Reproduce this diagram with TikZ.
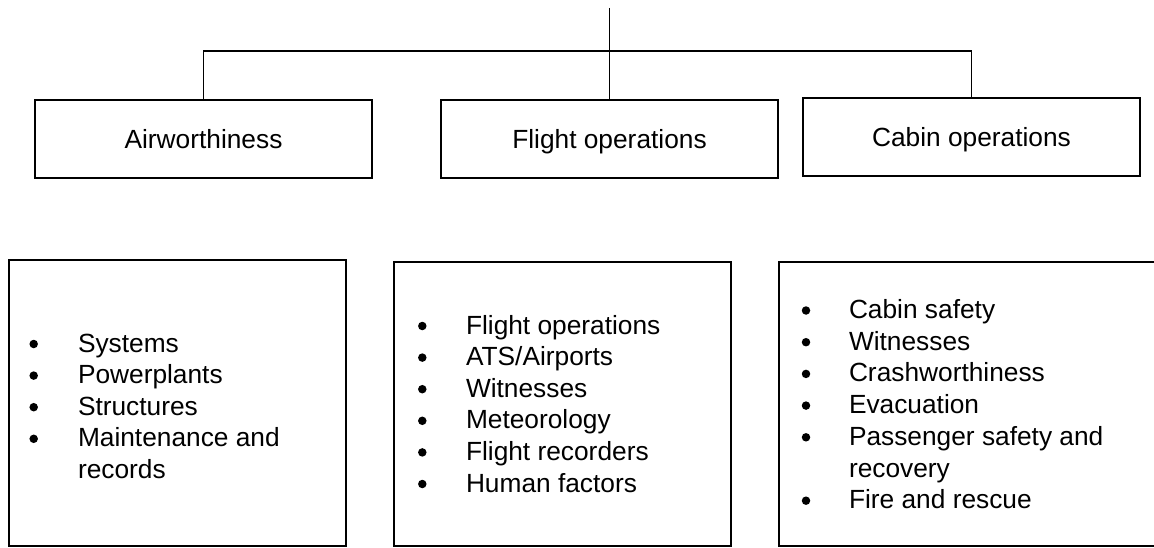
\documentclass[tikz,border=0pt]{standalone}
\usepackage{fontspec}
\setmainfont{Liberation Sans}
\begin{document}
\begin{tikzpicture}[x=1pt,y=-1pt,
  txt/.style={font=\fontsize{26.3}{31.6}\selectfont},
  box/.style={draw, line width=2.2pt, minimum width=337pt, minimum height=78pt,
    inner sep=0pt, outer sep=0pt, text height=20pt, text depth=0pt, txt},
  panel/.style={draw, line width=2.2pt, inner sep=0pt, outer sep=0pt},
  link/.style={line width=1.4pt},
  item/.style={anchor=base west, inner sep=0pt, outer sep=0pt, txt},
  dot/.style={circle, fill, inner sep=0pt, minimum size=8.5pt}]
\useasboundingbox (0,0) rectangle (1154,548);
\clip (0,0) rectangle (1154,548);

% category boxes
\node[box] (aw) at (203.5,139) {Airworthiness};
\node[box] (fo) at (609.5,139) {Flight operations};
\node[box] (co) at (971.5,137) {Cabin operations};

% tree connectors
\coordinate (root) at (fo.north |- 0,8);
\coordinate (bar) at (fo.north |- 0,51);
\draw[link] (root) -- (fo.north);
\draw[link] (aw.north) |- (bar) -| (co.north);

% detail panels
\node[panel, minimum width=337pt, minimum height=286pt] (pa) at (177.5,403) {};
\node[panel, minimum width=337pt, minimum height=284pt] (pf) at (562.5,404) {};
\node[panel, minimum width=386pt, minimum height=284pt] (pc) at (972,404) {};

% airworthiness items
\foreach \t [count=\i from 0] in {Systems, Powerplants, Structures, Maintenance and} {
  \node[dot] (ad\i) at (33.7,{344+31.6*\i}) {};
  \node[item] (at\i) at (78,{352+31.6*\i}) {\t};
}
\node[item] (at4) at (78,{352+31.6*4}) {records};

% flight operations items
\foreach \t [count=\i from 0] in {Flight operations, ATS/Airports, Witnesses, Meteorology, Flight recorders, Human factors} {
  \node[dot] (fd\i) at (422.3,{326+31.6*\i}) {};
  \node[item] (ft\i) at (466,{334+31.6*\i}) {\t};
}

% cabin operations items
\foreach \t [count=\i from 0] in {Cabin safety, Witnesses, Crashworthiness, Evacuation, Passenger safety and} {
  \node[dot] (cd\i) at (806,{310.5+31.7*\i}) {};
  \node[item] (ct\i) at (849,{318.5+31.7*\i}) {\t};
}
\node[item] (ct5) at (849,{318.5+31.7*5}) {recovery};
\node[dot] (cd6) at (806,{310.5+31.7*6}) {};
\node[item] (ct6) at (849,{318.5+31.7*6}) {Fire and rescue};
\end{tikzpicture}
\end{document}
